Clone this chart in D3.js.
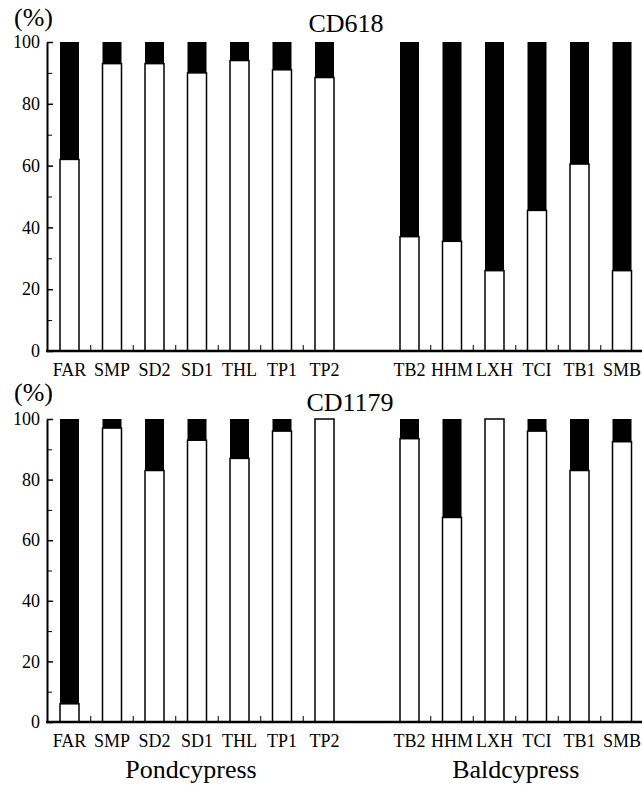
<!DOCTYPE html>
<html>
<head>
<meta charset="utf-8">
<title>CD618 / CD1179</title>
<script src="https://d3js.org/d3.v7.min.js"></script>
<style>
  body { margin: 0; background: #fff; }
  svg text { font-family: "Liberation Serif", "DejaVu Serif", serif; fill: #000; }
</style>
</head>
<body>
<div id="chart"></div>
<script>
// categories
var pondCats = ["FAR", "SMP", "SD2", "SD1", "THL", "TP1", "TP2"];
var baldCats = ["TB2", "HHM", "LXH", "TCI", "TB1", "SMB"];
var groupNames = ["Pondcypress", "Baldcypress"];

// white share of each bar (%) - the rest up to 100 is black
var cd618Pond = [62, 93, 93, 90, 94, 91, 88.5];
var cd618Bald = [37, 35.5, 26, 45.5, 60.5, 26];
var cd1179Pond = [6, 97, 83, 93, 87, 96, 100];
var cd1179Bald = [93.5, 67.5, 100, 96, 83, 92.5];

var yMajor = [0, 20, 40, 60, 80, 100];
var yMinor = [10, 30, 50, 70, 90];

var width = 642, height = 785;
var serif = "Liberation Serif, DejaVu Serif, serif";

var svg = d3.select("#chart").append("svg")
  .attr("width", width)
  .attr("height", height);

// one empty slot between the two groups
var domain = pondCats.concat(["_gap"], baldCats);
var x = d3.scaleBand()
  .domain(domain)
  .range([60, 631.5])
  .paddingInner(0.553)
  .paddingOuter(0);

var panels = [
  { title: "CD618", pond: cd618Pond, bald: cd618Bald, top: 42, bottom: 351, titleX: 346, titleY: 32, pctY: 26, labels: false },
  { title: "CD1179", pond: cd1179Pond, bald: cd1179Bald, top: 419, bottom: 722, titleX: 350, titleY: 411, pctY: 401, labels: true }
];

panels.forEach(function(p) {
  var y = d3.scaleLinear().domain([0, 100]).range([p.bottom, p.top]);
  var g = svg.append("g");

  var data = pondCats.map(function(c, i) { return { cat: c, v: p.pond[i] }; })
    .concat(baldCats.map(function(c, i) { return { cat: c, v: p.bald[i] }; }));

  // black top part
  g.selectAll(".black").data(data).enter().append("rect")
    .attr("x", function(d) { return x(d.cat); })
    .attr("width", x.bandwidth())
    .attr("y", y(100))
    .attr("height", function(d) { return y(d.v) - y(100); })
    .attr("fill", "#000");

  // white lower part with outline
  g.selectAll(".white").data(data).enter().append("rect")
    .attr("x", function(d) { return x(d.cat); })
    .attr("width", x.bandwidth())
    .attr("y", function(d) { return y(d.v); })
    .attr("height", function(d) { return y(0) - y(d.v); })
    .attr("fill", "#fff")
    .attr("stroke", "#000")
    .attr("stroke-width", 1.5);

  // y axis
  var yAxis = d3.axisLeft(y).tickValues(yMajor).tickSize(-6).tickSizeOuter(0).tickPadding(7);
  var ya = g.append("g").attr("transform", "translate(47,0)").call(yAxis)
    .attr("font-family", serif);
  ya.select(".domain").attr("stroke-width", 2);
  ya.selectAll(".tick line").attr("stroke-width", 1.5);
  ya.selectAll("text").style("font-size", "18px").attr("fill", "#000");

  var yMin = d3.axisLeft(y).tickValues(yMinor).tickSize(-5).tickFormat("");
  var ym = g.append("g").attr("transform", "translate(47,0)").call(yMin);
  ym.select(".domain").remove();
  ym.selectAll(".tick line").attr("stroke-width", 1);

  // baseline
  g.append("line")
    .attr("x1", 46).attr("x2", width)
    .attr("y1", y(0)).attr("y2", y(0))
    .attr("stroke", "#000").attr("stroke-width", 2.5);

  // small ticks between bars
  var tickCats = pondCats.slice(0, pondCats.length - 1).concat(baldCats);
  g.selectAll(".sep").data(tickCats).enter().append("line")
    .attr("x1", function(c) { return x(c) + x.bandwidth() + (x.step() - x.bandwidth()) / 2; })
    .attr("x2", function(c) { return x(c) + x.bandwidth() + (x.step() - x.bandwidth()) / 2; })
    .attr("y1", y(0)).attr("y2", y(0) - 6)
    .attr("stroke", "#000").attr("stroke-width", 1);

  // category labels
  var xAxis = d3.axisBottom(x).tickValues(pondCats.concat(baldCats)).tickSize(0).tickPadding(12);
  var xa = g.append("g").attr("transform", "translate(0," + y(0) + ")").call(xAxis)
    .attr("font-family", serif);
  xa.select(".domain").remove();
  xa.selectAll("text").style("font-size", "18px").attr("fill", "#000");

  // title and unit
  g.append("text")
    .attr("x", p.titleX).attr("y", p.titleY)
    .attr("text-anchor", "middle")
    .style("font-size", "26px")
    .text(p.title);

  g.append("text")
    .attr("x", 14).attr("y", p.pctY)
    .style("font-size", "26px")
    .text("(%)");

  if (p.labels) {
    var centers = [
      (x(pondCats[0]) + x(pondCats[pondCats.length - 1]) + x.bandwidth()) / 2,
      (x(baldCats[0]) + x(baldCats[baldCats.length - 1]) + x.bandwidth()) / 2
    ];
    g.selectAll(".grp").data(groupNames).enter().append("text")
      .attr("x", function(d, i) { return centers[i] - (i === 0 ? 6 : 0); })
      .attr("y", 778)
      .attr("text-anchor", "middle")
      .style("font-size", "26px")
      .text(function(d) { return d; });
  }
});
</script>
</body>
</html>
